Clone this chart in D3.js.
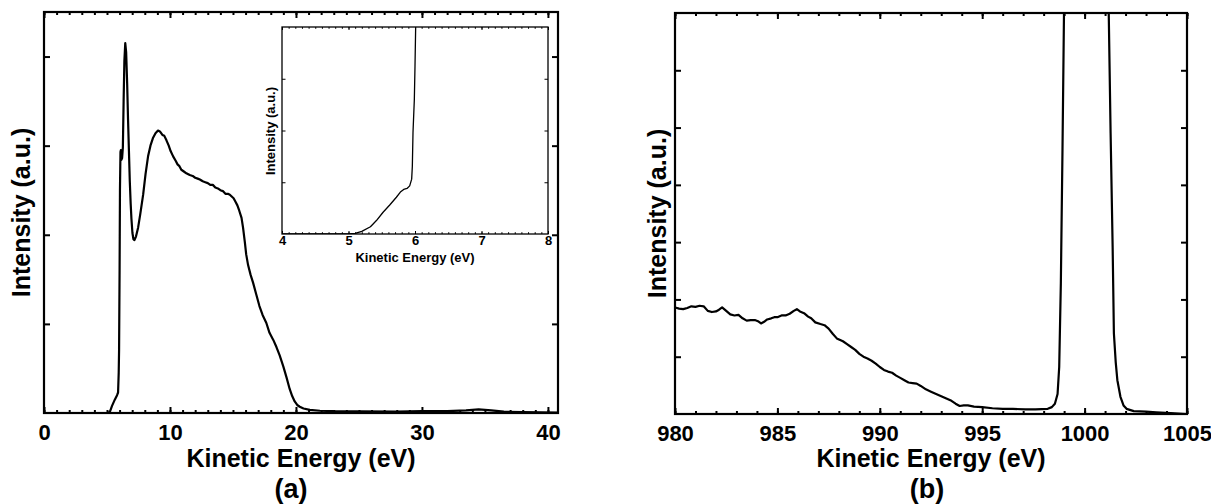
<!DOCTYPE html>
<html>
<head>
<meta charset="utf-8">
<script src="https://cdn.jsdelivr.net/npm/d3@7"></script>
<style>
  html, body { margin: 0; padding: 0; background: #fff; }
  svg { display: block; }
  text { font-family: "Liberation Sans", Arial, Helvetica, sans-serif; font-weight: bold; fill: #000; }
</style>
</head>
<body>
<svg id="fig" width="1211" height="504"></svg>
<script>
// Panel (a): full secondary-electron spectrum, [kinetic energy eV, intensity a.u.]
const spectrumA = [
  [0,0],[4,0],[5.0,0],[5.22,0.01],[5.4,0.08],[5.62,0.15],[5.8,0.2],[5.88,0.23],[5.93,0.45],[5.96,0.71],
  [6.0,1.6],[6.03,2.5],[6.07,2.93],[6.1,2.95],[6.14,2.84],[6.2,2.86],[6.26,2.98],[6.32,3.5],[6.38,3.95],
  [6.45,4.15],[6.52,4.05],[6.6,3.7],[6.67,3.3],[6.74,2.95],[6.81,2.6],[6.88,2.35],[6.94,2.18],[7.02,2.02],
  [7.1,1.95],[7.18,1.94],[7.3,1.98],[7.47,2.08],[7.65,2.24],[7.87,2.45],[8.06,2.68],[8.26,2.88],[8.45,3.0],
  [8.66,3.09],[8.85,3.14],[9.05,3.17],[9.2,3.16],[9.4,3.12],[9.55,3.11],[9.72,3.06],[9.9,3.0],[10.05,2.94],
  [10.25,2.88],[10.45,2.83],[10.6,2.79],[10.75,2.77],[10.9,2.73],[11.1,2.71],[11.3,2.69],[11.57,2.67],
  [11.8,2.66],[12.0,2.64],[12.2,2.63],[12.37,2.62],[12.6,2.6],[12.8,2.59],[13.0,2.58],[13.2,2.56],
  [13.4,2.56],[13.6,2.53],[13.8,2.52],[14.0,2.5],[14.2,2.49],[14.4,2.46],[14.6,2.46],[14.75,2.45],
  [14.9,2.43],[15.05,2.41],[15.2,2.37],[15.35,2.33],[15.5,2.27],[15.68,2.19],[15.8,2.08],[15.94,1.92],
  [16.05,1.78],[16.2,1.66],[16.4,1.55],[16.6,1.46],[16.85,1.33],[17.1,1.2],[17.35,1.1],[17.65,1.01],
  [17.9,0.9],[18.2,0.82],[18.45,0.74],[18.7,0.65],[19.0,0.52],[19.25,0.4],[19.5,0.27],[19.7,0.19],
  [19.9,0.13],[20.1,0.09],[20.3,0.07],[20.6,0.05],[21.1,0.035],[21.9,0.025],[23,0.02],[25,0.018],
  [28,0.015],[30,0.02],[32,0.02],[33.5,0.03],[34.5,0.04],[35.5,0.03],[36.5,0.015],[38,0.01],[40.8,0.005]
];

// Inset of (a): low-energy cutoff region
const spectrumInset = [
  [4.0,0],[4.5,0],[5.0,0],[5.1,0.01],[5.2,0.05],[5.33,0.14],[5.42,0.26],[5.52,0.42],[5.62,0.56],
  [5.72,0.71],[5.78,0.81],[5.83,0.86],[5.88,0.88],[5.92,0.93],[5.95,1.06],[5.96,1.31],[5.97,1.96],
  [5.99,2.6],[6.0,3.24],[6.01,4.0],[6.02,4.6]
];

// Panel (b): high-energy region with the elastic peak
const spectrumB = [
  [980,1.86],[980.2,1.84],[980.4,1.83],[980.6,1.85],[980.8,1.88],[981.0,1.87],[981.2,1.89],[981.4,1.88],
  [981.6,1.8],[981.8,1.78],[982.0,1.79],[982.15,1.82],[982.3,1.86],[982.5,1.8],[982.7,1.74],[982.9,1.72],
  [983.1,1.73],[983.3,1.67],[983.5,1.63],[983.7,1.64],[983.9,1.64],[984.05,1.62],[984.2,1.58],[984.35,1.61],
  [984.5,1.65],[984.7,1.67],[984.85,1.69],[985.0,1.69],[985.2,1.72],[985.4,1.72],[985.6,1.75],[985.8,1.8],
  [985.95,1.83],[986.1,1.79],[986.3,1.76],[986.5,1.7],[986.65,1.67],[986.85,1.6],[987.1,1.57],[987.3,1.55],
  [987.5,1.49],[987.7,1.4],[987.9,1.32],[988.2,1.27],[988.4,1.22],[988.6,1.17],[988.8,1.12],[989.0,1.05],
  [989.2,1.0],[989.4,0.97],[989.6,0.93],[989.8,0.88],[990.0,0.82],[990.2,0.77],[990.4,0.74],[990.6,0.72],
  [990.8,0.67],[991.0,0.63],[991.2,0.59],[991.4,0.55],[991.6,0.54],[991.8,0.53],[992.0,0.49],[992.25,0.43],
  [992.5,0.39],[992.75,0.35],[993.0,0.31],[993.25,0.27],[993.5,0.23],[993.7,0.18],[993.9,0.14],[994.1,0.15],
  [994.3,0.15],[994.6,0.13],[995.0,0.12],[995.5,0.1],[996.0,0.09],[996.5,0.09],[997.1,0.08],[997.6,0.08],
  [998.2,0.09],[998.4,0.12],[998.55,0.18],[998.68,0.35],[998.76,0.82],[998.84,2.28],[998.92,4.6],
  [999.0,7.2],[999.3,14],[1000,18],[1000.8,14],[1001.17,7.2],[1001.27,4.9],[1001.37,2.9],[1001.43,1.41],
  [1001.52,0.9],[1001.6,0.59],[1001.75,0.3],[1001.9,0.15],[1002.05,0.09],[1002.4,0.05],[1003.0,0.04],
  [1003.5,0.03],[1004.2,0.015],[1005,0.0]
];

// Tick values and labels
const ticksA_major = [0, 10, 20, 30, 40];
const ticksA_minor = d3.range(0, 41, 1);
const ticksA_y = [1, 2, 3, 4];
const ticksInset_major = [4, 5, 6, 7, 8];
const ticksInset_minor = d3.range(40, 81, 1).map(d => d / 10);
const ticksInset_y = [1, 2, 3];
const ticksB_major = [980, 985, 990, 995, 1000, 1005];
const ticksB_minor = d3.range(980, 1006, 1);
const ticksB_y = [1, 2, 3, 4, 5, 6];

const xTitle = "Kinetic Energy (eV)";
const yTitle = "Intensity (a.u.)";
const panelLabels = ["(a)", "(b)"];

const svg = d3.select("#fig");

function drawPanel(opt) {
  const { x0, x1, y0, y1, xDomain, yDomain, data, lw, frameW,
          major, minor, yTicks, majLen, minLen, yLen, tickW,
          labelSize, labelPad, id, fill } = opt;
  const x = d3.scaleLinear().domain(xDomain).range([x0, x1]);
  const y = d3.scaleLinear().domain(yDomain).range([y1, y0]);
  const g = svg.append("g");

  if (fill) {
    g.append("rect").attr("x", x0).attr("y", y0).attr("width", x1 - x0).attr("height", y1 - y0)
      .attr("fill", "#fff");
  }

  g.append("clipPath").attr("id", id).append("rect")
    .attr("x", x0).attr("y", y0).attr("width", x1 - x0).attr("height", y1 - y0);

  // spectrum curve
  g.append("path")
    .datum(data)
    .attr("clip-path", `url(#${id})`)
    .attr("fill", "none")
    .attr("stroke", "#000")
    .attr("stroke-width", lw)
    .attr("stroke-linejoin", "round")
    .attr("d", d3.line().x(d => x(d[0])).y(d => y(d[1])));

  const styleAxis = (sel, w) => {
    sel.select(".domain").remove();
    sel.selectAll(".tick line").attr("stroke", "#000").attr("stroke-width", w);
  };

  // minor ticks, bottom and top
  g.append("g").attr("transform", `translate(0,${y1})`)
    .call(d3.axisBottom(x).tickValues(minor).tickSize(-minLen).tickFormat(""))
    .call(s => styleAxis(s, tickW));
  g.append("g").attr("transform", `translate(0,${y0})`)
    .call(d3.axisTop(x).tickValues(minor).tickSize(-minLen).tickFormat(""))
    .call(s => styleAxis(s, tickW));

  // major ticks with labels
  g.append("g").attr("transform", `translate(0,${y1})`)
    .call(d3.axisBottom(x).tickValues(major).tickSize(-majLen).tickPadding(labelPad).tickFormat(d3.format("d")))
    .call(s => {
      styleAxis(s, tickW);
      s.selectAll("text").attr("font-size", labelSize).attr("font-weight", "bold")
        .attr("font-family", "Liberation Sans, Arial, sans-serif").attr("fill", "#000");
    });
  g.append("g").attr("transform", `translate(0,${y0})`)
    .call(d3.axisTop(x).tickValues(major).tickSize(-majLen).tickFormat(""))
    .call(s => styleAxis(s, tickW));

  // y ticks, left and right, unlabelled
  g.append("g").attr("transform", `translate(${x0},0)`)
    .call(d3.axisLeft(y).tickValues(yTicks).tickSize(-yLen).tickFormat(""))
    .call(s => styleAxis(s, tickW));
  g.append("g").attr("transform", `translate(${x1},0)`)
    .call(d3.axisRight(y).tickValues(yTicks).tickSize(-yLen).tickFormat(""))
    .call(s => styleAxis(s, tickW));

  // frame
  g.append("rect").attr("x", x0).attr("y", y0).attr("width", x1 - x0).attr("height", y1 - y0)
    .attr("fill", "none").attr("stroke", "#000").attr("stroke-width", frameW);

  return { x, y, g };
}

// Panel (a)
const A = drawPanel({
  id: "clipA", x0: 44, x1: 558, y0: 12, y1: 413,
  xDomain: [0, 40.8], yDomain: [0, 4.5], data: spectrumA, lw: 2.2, frameW: 2.2,
  major: ticksA_major, minor: ticksA_minor, yTicks: ticksA_y,
  majLen: 6, minLen: 3, yLen: 6, tickW: 2, labelSize: 22, labelPad: 11
});

// Inset of (a)
const I = drawPanel({
  id: "clipI", x0: 282, x1: 548, y0: 27, y1: 234, fill: true,
  xDomain: [4, 8], yDomain: [0, 4], data: spectrumInset, lw: 1.3, frameW: 1.3,
  major: ticksInset_major, minor: ticksInset_minor, yTicks: ticksInset_y,
  majLen: 3, minLen: 1.8, yLen: 3.5, tickW: 1, labelSize: 13, labelPad: 2
});

// Panel (b)
const B = drawPanel({
  id: "clipB", x0: 675, x1: 1187, y0: 13, y1: 414,
  xDomain: [980, 1005], yDomain: [0, 7], data: spectrumB, lw: 2.2, frameW: 2.2,
  major: ticksB_major, minor: ticksB_minor, yTicks: ticksB_y,
  majLen: 6, minLen: 3, yLen: 6, tickW: 2, labelSize: 22, labelPad: 11
});

// axis titles and panel labels
function titles(cx, cy, xTitleY, yTitleX, size, panelLabel, labelX, labelY, labelSize) {
  svg.append("text").attr("x", cx).attr("y", xTitleY).attr("text-anchor", "middle")
    .attr("font-size", size).text(xTitle);
  svg.append("text").attr("transform", `translate(${yTitleX},${cy}) rotate(-90)`)
    .attr("text-anchor", "middle").attr("font-size", size).text(yTitle);
  if (panelLabel) {
    svg.append("text").attr("x", labelX).attr("y", labelY).attr("text-anchor", "middle")
      .attr("font-size", labelSize).text(panelLabel);
  }
}
titles(301, 212.5, 467, 30, 25, panelLabels[0], 291, 498, 27);
titles(931, 213.5, 467, 666, 25, panelLabels[1], 927, 498, 27);
titles(415, 131, 262, 274.5, 13, null);
</script>
</body>
</html>
